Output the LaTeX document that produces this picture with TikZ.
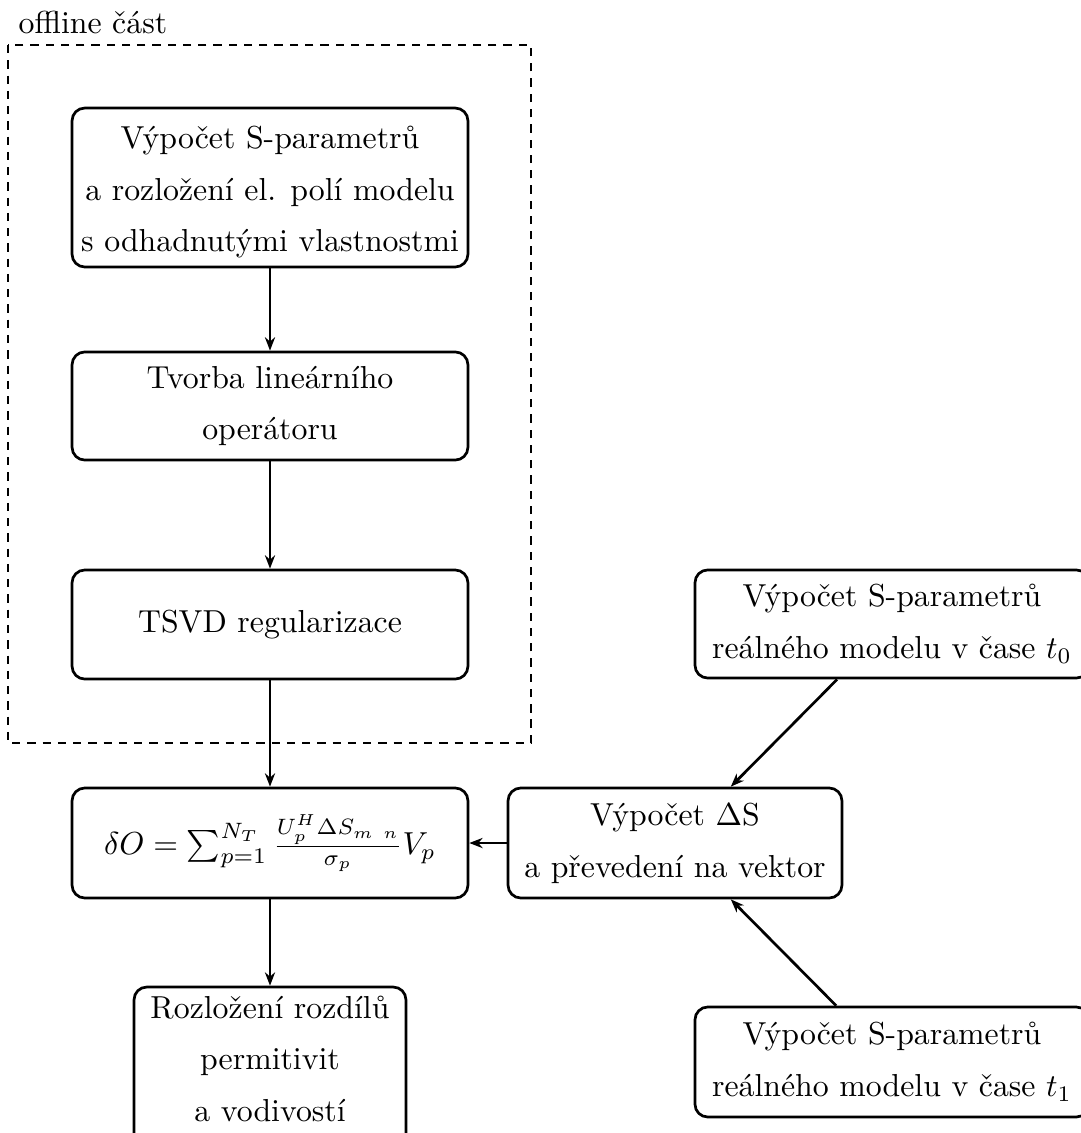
\documentclass[tikz,border=0pt]{standalone}
\usetikzlibrary{arrows.meta}
\begin{document}
\begin{tikzpicture}[x=0.3145pt,y=-0.3145pt,
  box/.style={draw, line width=0.85pt, rounded corners=4pt, align=center, inner sep=0pt,
    font=\fontsize{10}{16.3}\selectfont},
  wide/.style={minimum width=124.5pt},
  conn/.style={line width=0.85pt, -{Stealth[length=4.2pt,width=3.2pt]}},
  region/.style={draw, line width=0.4pt, dash pattern=on 2.6pt off 2.2pt}]
\useasboundingbox (0,0) rectangle (1081,1133);
\clip (0,0) rectangle (1081,1133);

\draw[region] (8,45) rectangle (531,743);
\node[anchor=base west, inner sep=0pt] (lbl) at (18,33) {offline část};

\node[box, wide, minimum height=50pt] (A) at (270,187.5)
  {\rule{0pt}{10pt}Výpočet S-parametrů\\a rozložení el. polí modelu\\s odhadnutými vlastnostmi};
\node[box, wide, minimum height=34pt] (B) at (270,406)
  {Tvorba lineárního\\operátoru};
\node[box, wide, minimum height=34.3pt] (C) at (270,624.5)
  {TSVD regularizace};
\node[box, wide, minimum height=34.6pt] (D) at (270,843)
  {$\delta O = \sum_{p=1}^{N_T}\frac{U_p^H\Delta S_{m\ n}}{\sigma_p}V_p$};
\node[box, minimum width=85.5pt, minimum height=50pt] (E) at (270,1066.5)
  {Rozložení rozdílů\\permitivit\\a vodivostí\rule[-4.9pt]{0pt}{4.9pt}};
\node[box, minimum width=105pt, minimum height=34.6pt] (F) at (675,843)
  {Výpočet $\Delta$S\\a převedení na vektor};
\node[box, minimum width=123.9pt, minimum height=34pt] (G) at (892,624)
  {Výpočet S-parametrů\\reálného modelu v čase $t_0$};
\node[box, minimum width=123.9pt, minimum height=34.6pt] (H) at (892,1062)
  {Výpočet S-parametrů\\reálného modelu v čase $t_1$};

\draw[conn] (A) -- (B);
\draw[conn] (B) -- (C);
\draw[conn] (C) -- (D);
\draw[conn] (D) -- (E);
\draw[conn] (F) -- (D);
\draw[conn] (G) -- (F);
\draw[conn] (H) -- (F);
\end{tikzpicture}
\end{document}
